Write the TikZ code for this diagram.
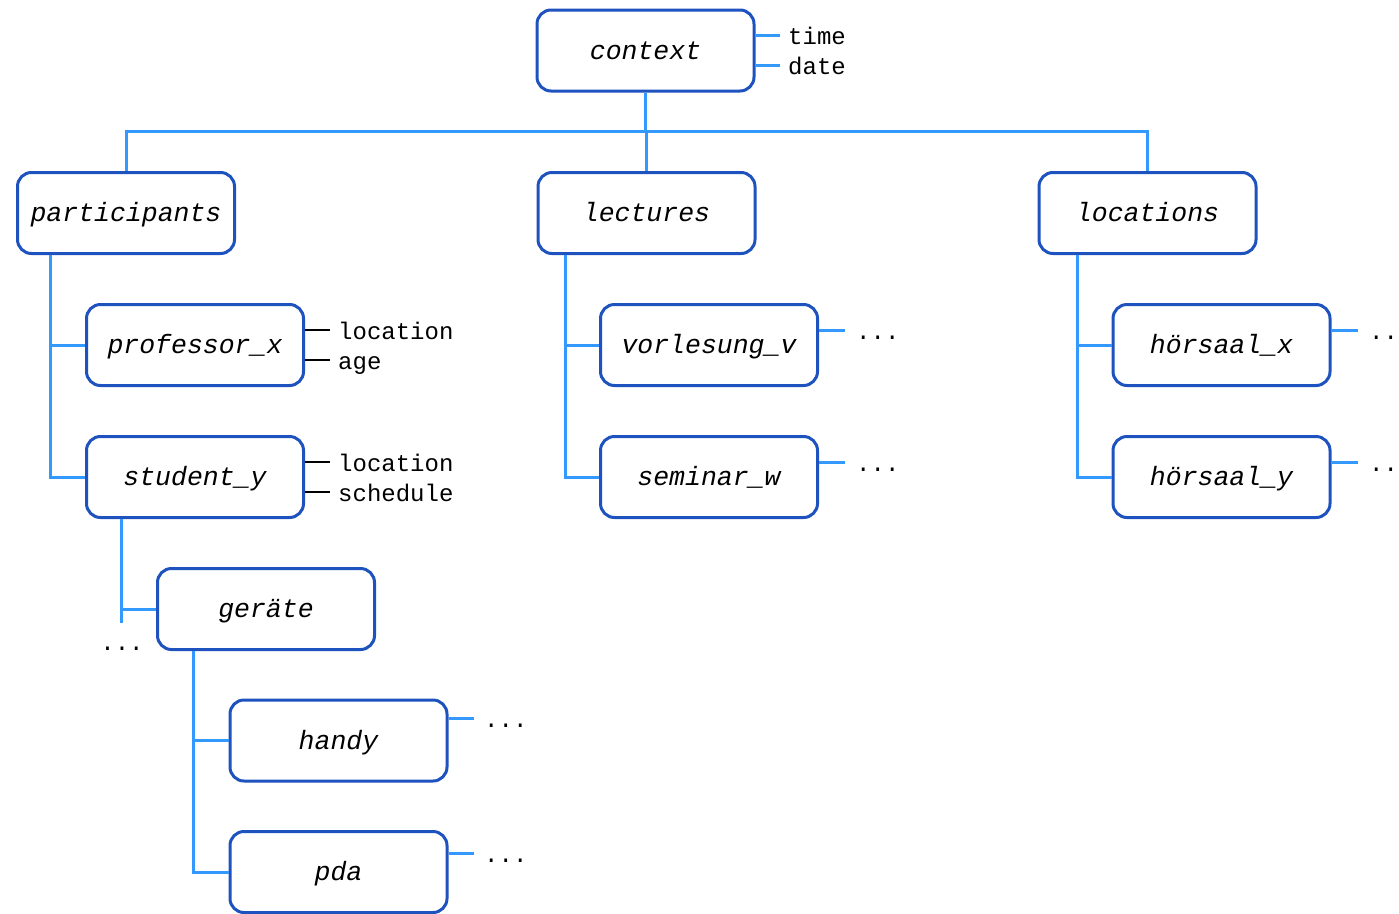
\documentclass[tikz,border=0pt]{standalone}
\usepackage{fontspec}
\setmonofont{Liberation Mono}
\definecolor{boxblue}{RGB}{30,82,190}
\definecolor{wireblue}{RGB}{51,153,255}
\begin{document}
\begin{tikzpicture}[x=1pt,y=-1pt,
  box/.style={draw=boxblue, line width=3pt, rounded corners=14pt, fill=white,
    minimum width=217pt, minimum height=81pt, inner sep=0pt,
    font=\fontsize{26.5}{30}\selectfont\ttfamily\itshape,
    text height=19.9pt, text depth=2.7pt},
  wire/.style={draw=wireblue, line width=3pt},
  attr/.style={draw=black, line width=2pt},
  lab/.style={inner sep=0pt, anchor=base west, font=\fontsize{24}{28}\selectfont\ttfamily},
]
\useasboundingbox (0,0) rectangle (1399,913);

% tree nodes
\node[box] (ctx)   at (645.5,50.5) {context};
\node[box] (part)  at (126,213)    {participants};
\node[box] (lect)  at (646.5,213)  {lectures};
\node[box] (loc)   at (1147.5,213) {locations};
\node[box] (prof)  at (195,345)    {professor\_x};
\node[box] (stud)  at (195,477)    {student\_y};
\node[box] (ger)   at (266,609)    {geräte};
\node[box] (handy) at (338.5,740.5) {handy};
\node[box] (pda)   at (338.5,872)  {pda};
\node[box] (vorl)  at (709,345)    {vorlesung\_v};
\node[box] (sem)   at (709,477)    {seminar\_w};
\node[box] (hx)    at (1221.5,345) {hörsaal\_x};
\node[box] (hy)    at (1221.5,477) {hörsaal\_y};

% top level bus
\coordinate (bus) at (646,131);
\draw[wire] (ctx.south) -- (ctx.south |- bus);
\draw[wire] (part.north) |- (bus) -| (loc.north);
\draw[wire] (lect.north) -- (lect.north |- bus);

% spines to children
\coordinate (sp1) at (50,0);
\draw[wire] (part.south -| sp1) |- (prof.west);
\draw[wire] (part.south -| sp1) |- (stud.west);
\coordinate (sp2) at (565,0);
\draw[wire] (lect.south -| sp2) |- (vorl.west);
\draw[wire] (lect.south -| sp2) |- (sem.west);
\coordinate (sp3) at (1077,0);
\draw[wire] (loc.south -| sp3) |- (hx.west);
\draw[wire] (loc.south -| sp3) |- (hy.west);
\coordinate (sp4) at (121,0);
\coordinate (sp4end) at (121,623);
\draw[wire] (stud.south -| sp4) |- (ger.west);
\draw[wire] (stud.south -| sp4) -- (sp4end);
\node[inner sep=0pt, anchor=base, font=\fontsize{24}{28}\selectfont\ttfamily] (more) at (122,650) {...};
\coordinate (sp5) at (193,0);
\draw[wire] (ger.south -| sp5) |- (handy.west);
\draw[wire] (ger.south -| sp5) |- (pda.west);

% attribute stubs
\coordinate (cA) at (780,35);  \coordinate (cB) at (780,65);
\draw[wire] (ctx.east |- cA) -- (cA);
\draw[wire] (ctx.east |- cB) -- (cB);
\node[lab] (time) at (788,44.5) {time};
\node[lab] (date) at (788,74.5) {date};

\coordinate (pA) at (330,330); \coordinate (pB) at (330,360);
\draw[attr] (prof.east |- pA) -- (pA);
\draw[attr] (prof.east |- pB) -- (pB);
\node[lab] (ploc) at (338,339.5) {location};
\node[lab] (page) at (338,369.5) {age};

\coordinate (sA) at (330,462); \coordinate (sB) at (330,492);
\draw[attr] (stud.east |- sA) -- (sA);
\draw[attr] (stud.east |- sB) -- (sB);
\node[lab] (sloc) at (338,471.5) {location};
\node[lab] (ssch) at (338,501.5) {schedule};

\coordinate (vA) at (845,330);
\draw[wire] (vorl.east |- vA) -- (vA);
\node[lab] (vdots) at (856,339) {...};
\coordinate (wA) at (845,462);
\draw[wire] (sem.east |- wA) -- (wA);
\node[lab] (wdots) at (856,471) {...};

\coordinate (xA) at (1358,330);
\draw[wire] (hx.east |- xA) -- (xA);
\node[lab] (xdots) at (1369,339) {...};
\coordinate (yA) at (1358,462);
\draw[wire] (hy.east |- yA) -- (yA);
\node[lab] (ydots) at (1369,471) {...};

\coordinate (hA) at (474,718);
\draw[wire] (handy.east |- hA) -- (hA);
\node[lab] (hdots) at (484,727) {...};
\coordinate (dA) at (474,853);
\draw[wire] (pda.east |- dA) -- (dA);
\node[lab] (ddots) at (484,862) {...};
\end{tikzpicture}
\end{document}
